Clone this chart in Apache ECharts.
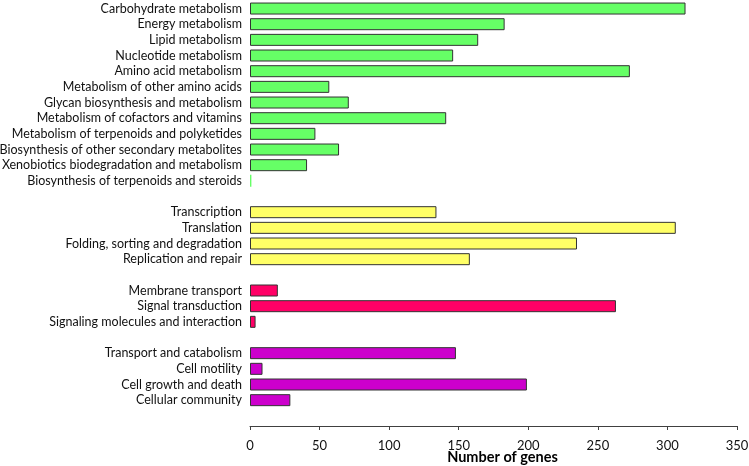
<!DOCTYPE html>
<html>
<head>
<meta charset="utf-8">
<script src="https://cdn.jsdelivr.net/npm/echarts@6/dist/echarts.min.js"></script>
<style>html,body{margin:0;padding:0;background:#fff}#c{width:749px;height:466px}</style>
</head>
<body>
<div id="c"></div>
<script>
// categories top to bottom (blank strings are the gaps between groups)
const categories = [
  'Carbohydrate metabolism','Energy metabolism','Lipid metabolism','Nucleotide metabolism',
  'Amino acid metabolism','Metabolism of other amino acids','Glycan biosynthesis and metabolism',
  'Metabolism of cofactors and vitamins','Metabolism of terpenoids and polyketides',
  'Biosynthesis of other secondary metabolites','Xenobiotics biodegradation and metabolism',
  'Biosynthesis of terpenoids and steroids',
  ' ',
  'Transcription','Translation','Folding, sorting and degradation','Replication and repair',
  '  ',
  'Membrane transport','Signal transduction','Signaling molecules and interaction',
  '   ',
  'Transport and catabolism','Cell motility','Cell growth and death','Cellular community'
];
const metabolism = [313,183,164,146,273,57,71,141,47,64,41,1];
const geneInfo = [134,306,235,158];
const envInfo = [20,263,4];
const cellular = [148,9,199,29];
const groupColors = ['#66FF66','#FFFF66','#FF0066','#CC00CC'];
const xTicks = {min:0, max:350, interval:50};
const xTitle = 'Number of genes';

const FONT = 'Lato, "Open Sans", sans-serif';
// build padded series data: one series per group, null elsewhere
function padded(vals, start){
  const arr = categories.map(()=>null);
  vals.forEach((v,i)=>{ arr[start+i] = v; });
  return arr;
}
const starts = [0,13,18,22];
const groups = [metabolism, geneInfo, envInfo, cellular];
const series = groups.map((g,gi)=>{
  const data = padded(g, starts[gi]).map((v,idx)=>{
    if(v===null) return null;
    if(gi===0 && idx===11) return {value:v, itemStyle:{borderWidth:0}};
    return v;
  });
  return {
    type:'bar', stack:'all', data, barWidth:12,
    itemStyle:{color:groupColors[gi], borderColor:'#333', borderWidth:1},
    silent:true
  };
});

const chart = echarts.init(document.getElementById('c'), null, {renderer:'canvas'});
chart.setOption({
  animation:false,
  grid:{left:250, right:12, top:0.7, bottom:58, containLabel:false, outerBoundsMode:'none'},
  xAxis:{
    type:'value', min:xTicks.min, max:xTicks.max, interval:xTicks.interval,
    offset:18,
    axisLine:{show:true, lineStyle:{color:'#404040', width:1}},
    axisTick:{show:true, inside:false, length:4, lineStyle:{color:'#404040'}},
    splitLine:{show:false},
    axisLabel:{color:'#111', fontSize:13, fontFamily:FONT, margin:13},
    name:xTitle, nameLocation:'middle', nameGap:24, nameMoveOverlap:false,
    nameTextStyle:{color:'#000', fontSize:14.5, fontWeight:'bold', fontFamily:FONT, padding:[0,0,0,18]}
  },
  yAxis:{
    type:'category', data:categories, inverse:true,
    axisLine:{show:false}, axisTick:{show:false},
    axisLabel:{color:'#111', fontSize:12.5, fontFamily:FONT, margin:8, interval:0}
  },
  series
});
</script>
</body>
</html>
